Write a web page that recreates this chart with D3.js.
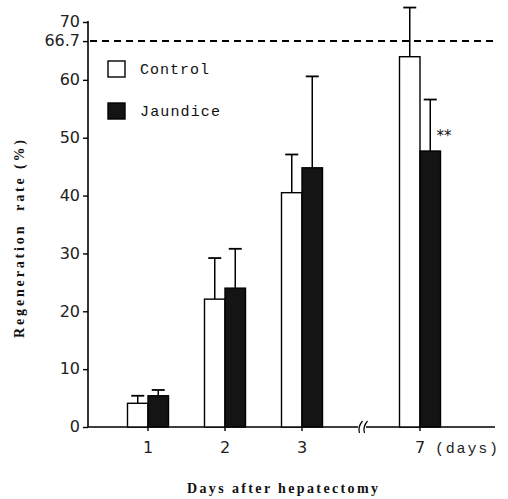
<!DOCTYPE html>
<html><head><meta charset="utf-8">
<script src="https://cdn.jsdelivr.net/npm/d3@7"></script>
<style>body{margin:0;background:#fff}</style>
</head><body>
<svg id="c" width="508" height="499"></svg>
<script>
const days = ["1","2","3","7"];
const controlMean = [4.1, 22.1, 40.5, 64.0];
const controlErr  = [1.3, 7.1, 6.6, 8.5];
const jaundMean   = [5.4, 24.0, 44.8, 47.7];
const jaundErr    = [1.0, 6.8, 15.8, 8.9];
const yTicks = [0,10,20,30,40,50,60,66.7,70];
const refValue = 66.7;
const seriesNames = ["Control","Jaundice"];

const svg = d3.select("#c");
const y = d3.scaleLinear().domain([0,70]).range([427,22]);
const xl = d3.scaleLinear().domain([1,3]).range([148,302]);
const xPos = d => { const n=+d; return n<=3 ? xl(n) : xl(3)+118; };
const bw = 20.5;
const axisX = 88;

// y axis
const yAxis = d3.axisLeft(y).tickValues(yTicks).tickSize(5).tickPadding(3)
  .tickFormat(d => d===66.7 ? "66.7" : d3.format("d")(d));
const gy = svg.append("g").attr("transform",`translate(${axisX},0)`).call(yAxis);
gy.select(".domain").attr("d",`M0,${y(70)-1}V${y(0)}`).attr("stroke","#000").attr("stroke-width",1.6);
gy.selectAll(".tick line").attr("stroke","#000").attr("stroke-width",1.4);
gy.selectAll(".tick text").attr("font-family","'DejaVu Sans'").attr("font-size",16).attr("fill","#222").attr("dy","0.3em");

// x axis baseline with break
const breakX = 362;
const base = svg.append("g");
base.append("path").attr("d",`M${axisX},${y(0)}H${breakX-4}M${breakX+4},${y(0)}H495`)
  .attr("stroke","#000").attr("stroke-width",1.6).attr("fill","none");
[-2.5,2.5].forEach(o=>{
  base.append("path").attr("d",`M${breakX+o+3},${y(0)-6} Q${breakX+o-2},${y(0)} ${breakX+o},${y(0)+6}`)
    .attr("stroke","#000").attr("stroke-width",1.2).attr("fill","none");
});
days.forEach(d=>{
  base.append("line").attr("x1",xPos(d)).attr("x2",xPos(d)).attr("y1",y(0)).attr("y2",y(0)+4)
    .attr("stroke","#000").attr("stroke-width",1.4);
  base.append("text").attr("x",xPos(d)).attr("y",453).attr("text-anchor","middle")
    .attr("font-family","'DejaVu Sans'").attr("font-size",16).attr("fill","#222").text(d);
});
base.append("text").attr("x",435).attr("y",453).attr("font-family","'Liberation Mono'")
  .attr("font-size",15).attr("textLength",63).attr("lengthAdjust","spacing").attr("fill","#222").text("(days)");

// reference dashed line
svg.append("line").attr("x1",axisX+2).attr("x2",498).attr("y1",y(refValue)).attr("y2",y(refValue))
  .attr("stroke","#000").attr("stroke-width",2).attr("stroke-dasharray","7,5");

// bars
const series = [
  {name:seriesNames[0], mean:controlMean, err:controlErr, off:-bw, fill:"#fff"},
  {name:seriesNames[1], mean:jaundMean, err:jaundErr, off:0, fill:"#141414"}
];
series.forEach(s=>{
  const g = svg.append("g");
  days.forEach((d,i)=>{
    const x0 = xPos(d)+s.off, cx = x0+bw/2;
    g.append("line").attr("x1",cx).attr("x2",cx).attr("y1",y(s.mean[i])).attr("y2",y(s.mean[i]+s.err[i]))
      .attr("stroke","#000").attr("stroke-width",1.5);
    g.append("line").attr("x1",cx-6.5).attr("x2",cx+6.5).attr("y1",y(s.mean[i]+s.err[i])).attr("y2",y(s.mean[i]+s.err[i]))
      .attr("stroke","#000").attr("stroke-width",1.8);
    g.append("rect").attr("x",x0).attr("y",y(s.mean[i])).attr("width",bw).attr("height",y(0)-y(s.mean[i]))
      .attr("fill",s.fill).attr("stroke","#000").attr("stroke-width",1.4);
  });
});

// significance
svg.append("text").attr("x",444).attr("y",141).attr("text-anchor","middle")
  .attr("font-family","'DejaVu Sans'").attr("font-size",15).attr("fill","#111").text("**");

// legend
const leg = svg.append("g");
series.forEach((s,i)=>{
  const ly = 61 + i*42;
  leg.append("rect").attr("x",108).attr("y",ly).attr("width",17).attr("height",16)
    .attr("fill",s.fill).attr("stroke","#000").attr("stroke-width",1.4);
  leg.append("text").attr("x",140).attr("y",ly+13).attr("font-family","'Liberation Mono'").attr("font-size",15)
    .attr("textLength", i===0?69:80).attr("lengthAdjust","spacing").attr("fill","#111").text(s.name);
});

// axis titles
svg.append("text").attr("x",187).attr("y",493).attr("font-family","'Liberation Serif'").attr("font-weight","bold")
  .attr("font-size",14).attr("textLength",191).attr("lengthAdjust","spacing").attr("fill","#111").text("Days after hepatectomy");
svg.append("text").attr("transform","translate(24,338) rotate(-90)").attr("font-family","'Liberation Serif'")
  .attr("font-weight","bold").attr("font-size",14).attr("textLength",198).attr("lengthAdjust","spacing")
  .attr("fill","#111").attr("xml:space","preserve").text("Regeneration  rate (%)");
</script>
</body></html>
